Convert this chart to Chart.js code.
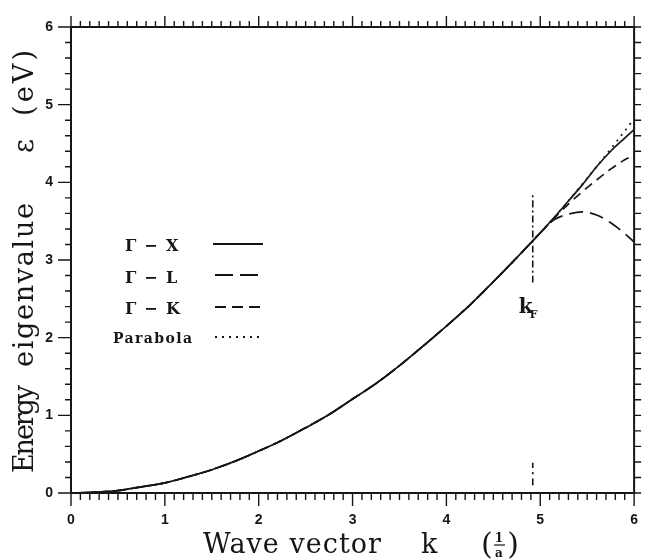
<!DOCTYPE html>
<html lang="en">
<head>
<meta charset="UTF-8">
<title>Energy eigenvalue vs wave vector</title>
<script src="https://cdn.jsdelivr.net/npm/chart.js@4.4.1/dist/chart.umd.min.js"></script>
<style>
  html, body { margin: 0; padding: 0; background: #fff; }
  canvas { display: block; }
</style>
</head>
<body>
<canvas id="bands" width="657" height="560"></canvas>
<script>
// free-electron parabola and band branches, energies in eV, k in units of 1/a
const kShared = [0, 0.25, 0.5, 0.75, 1.0, 1.25, 1.5, 1.75, 2.0, 2.25, 2.5, 2.75,
                 3.0, 3.25, 3.5, 3.75, 4.0, 4.25, 4.5, 4.75, 5.0];
const energyShared = [0, 0.01, 0.03, 0.08, 0.13, 0.21, 0.30, 0.41, 0.54, 0.68, 0.84, 1.01,
                      1.21, 1.41, 1.64, 1.89, 2.15, 2.42, 2.72, 3.03, 3.35];

// above k = 5 the branches split apart
const kTail = [5.15, 5.3, 5.45, 5.6, 5.75, 5.9, 6.0];
const parabolaTail = [3.55, 3.76, 3.98, 4.20, 4.43, 4.66, 4.82];
const gammaXTail   = [3.55, 3.76, 3.97, 4.20, 4.40, 4.57, 4.68];
const gammaLTail   = [3.52, 3.59, 3.62, 3.58, 3.48, 3.34, 3.23];
const gammaKTail   = [3.54, 3.72, 3.88, 4.03, 4.17, 4.29, 4.35];

// Fermi wave vector marker
const kFermi = 4.92;
const fermiUpper = [2.71, 3.84];
const fermiLower = [0.10, 0.39];

const ink = '#161616';

function branch(tail) {
  const pts = kShared.map((k, i) => ({x: k, y: energyShared[i]}));
  return pts.concat(kTail.map((k, i) => ({x: k, y: tail[i]})));
}

function vertical(k, range) {
  return range.map(e => ({x: k, y: e}));
}

// letter-spaced text so wide serif titles fill a given width
function spread(ctx, text, x, y, width) {
  ctx.letterSpacing = '0px';
  const natural = ctx.measureText(text).width;
  const n = [...text].length;
  ctx.letterSpacing = n > 1 ? ((width - natural) / (n - 1)) + 'px' : '0px';
  ctx.fillText(text, x, y);
  ctx.letterSpacing = '0px';
}

const framePlugin = {
  id: 'frame',
  afterDraw(chart) {
    const {ctx, chartArea: a, scales: {x, y}} = chart;
    ctx.save();
    ctx.strokeStyle = ink;
    ctx.fillStyle = ink;

    // box
    ctx.lineWidth = 2;
    ctx.strokeRect(a.left, a.top, a.right - a.left, a.bottom - a.top);

    // tick marks, all pointing outward
    ctx.lineWidth = 1.4;
    ctx.beginPath();
    for (let i = 0; i <= 60; i++) {
      const px = x.getPixelForValue(i / 10);
      const major = i % 10 === 0;
      ctx.moveTo(px, a.bottom);
      ctx.lineTo(px, a.bottom + (major ? 13 : 7));
      ctx.moveTo(px, a.top);
      ctx.lineTo(px, a.top - (major ? 11 : 6));
    }
    for (let i = 0; i <= 30; i++) {
      const py = y.getPixelForValue(i / 5);
      const major = i % 5 === 0;
      ctx.moveTo(a.left, py);
      ctx.lineTo(a.left - (major ? 13 : 6), py);
      ctx.moveTo(a.right, py);
      ctx.lineTo(a.right + 7, py);
    }
    ctx.stroke();

    // legend
    const rows = [
      {name: 'X', y: 251, line: 244, dash: [], x1: 213, x2: 263},
      {name: 'L', y: 283, line: 275, dash: [18, 7], x1: 215, x2: 258},
      {name: 'K', y: 314, line: 307, dash: [11, 6], x1: 215, x2: 262}
    ];
    ctx.font = 'bold 16px "DejaVu Serif"';
    ctx.textAlign = 'left';
    ctx.textBaseline = 'alphabetic';
    rows.forEach(r => {
      ctx.fillText('\u0393', 125, r.y);
      ctx.fillRect(146, r.y - 6, 10, 1.8);
      ctx.fillText(r.name, 166, r.y);
      ctx.setLineDash(r.dash);
      ctx.lineWidth = 1.8;
      ctx.beginPath();
      ctx.moveTo(r.x1, r.line);
      ctx.lineTo(r.x2, r.line);
      ctx.stroke();
    });
    ctx.font = 'bold 14px "DejaVu Serif"';
    spread(ctx, 'Parabola', 113, 343, 79);
    ctx.setLineDash([2, 5]);
    ctx.beginPath();
    ctx.moveTo(215, 337);
    ctx.lineTo(260, 337);
    ctx.stroke();
    ctx.setLineDash([]);

    // k_F label under the marker
    const kx = x.getPixelForValue(kFermi);
    ctx.font = 'bold 20px "DejaVu Serif"';
    ctx.fillText('k', kx - 14, 313);
    ctx.font = 'bold 11px "DejaVu Serif"';
    ctx.fillText('F', kx - 3, 318);

    // x axis title
    ctx.font = '27px "DejaVu Serif"';
    spread(ctx, 'Wave vector', 203, 553, 178);
    ctx.fillText('k', 421, 553);
    ctx.font = '30px "DejaVu Serif"';
    ctx.fillText('(', 481, 554);
    ctx.textAlign = 'right';
    ctx.fillText(')', 519, 554);
    ctx.textAlign = 'center';
    ctx.font = 'bold 12px "DejaVu Serif"';
    ctx.fillText('1', 499, 542);
    ctx.fillText('a', 499, 557);
    ctx.lineWidth = 1.2;
    ctx.beginPath();
    ctx.moveTo(494, 545);
    ctx.lineTo(505, 545);
    ctx.stroke();

    // y axis title, reading upward
    ctx.translate(33, 0);
    ctx.rotate(-Math.PI / 2);
    ctx.textAlign = 'left';
    ctx.font = '27px "DejaVu Serif"';
    spread(ctx, 'Energy', -473, 0, 88);
    spread(ctx, 'eigenvalue', -367, 0, 164);
    ctx.fillText('\u03b5', -153, 0);
    spread(ctx, '(eV)', -116, 0, 66);
    ctx.restore();
  }
};

const lineStyle = {
  borderColor: ink,
  borderWidth: 1.7,
  pointRadius: 0,
  fill: false,
  cubicInterpolationMode: 'monotone'
};

new Chart(document.getElementById('bands'), {
  type: 'line',
  data: {
    datasets: [
      {label: '\u0393 - X', data: branch(gammaXTail), ...lineStyle, order: 0},
      {label: '\u0393 - L', data: branch(gammaLTail), ...lineStyle, borderDash: [14, 7], order: 1},
      {label: '\u0393 - K', data: branch(gammaKTail), ...lineStyle, borderDash: [9, 6], order: 2},
      {label: 'Parabola', data: branch(parabolaTail), ...lineStyle, borderDash: [2, 5], order: 3},
      {label: 'kF', data: vertical(kFermi, fermiUpper), ...lineStyle, borderWidth: 1.6, borderDash: [7, 3, 2, 3], order: 4},
      {label: 'kF axis', data: vertical(kFermi, fermiLower), ...lineStyle, borderWidth: 1.6, borderDash: [7, 4, 2, 4], order: 5}
    ]
  },
  options: {
    responsive: false,
    devicePixelRatio: 1,
    animation: false,
    layout: {padding: {top: 27, right: 11, left: 0, bottom: 0}},
    plugins: {
      legend: {display: false},
      tooltip: {enabled: false}
    },
    scales: {
      x: {
        type: 'linear',
        min: 0,
        max: 6,
        grid: {display: false, drawTicks: false},
        border: {display: false},
        ticks: {
          stepSize: 1,
          padding: 19,
          color: ink,
          font: {family: 'Liberation Sans', weight: 'bold', size: 14}
        },
        afterFit(scale) { scale.height = 67; }
      },
      y: {
        type: 'linear',
        min: 0,
        max: 6,
        grid: {display: false, drawTicks: false},
        border: {display: false},
        ticks: {
          stepSize: 1,
          padding: 18,
          color: ink,
          font: {family: 'Liberation Sans', weight: 'bold', size: 14}
        },
        afterFit(scale) { scale.width = 71; }
      }
    }
  },
  plugins: [framePlugin]
});
</script>
</body>
</html>
